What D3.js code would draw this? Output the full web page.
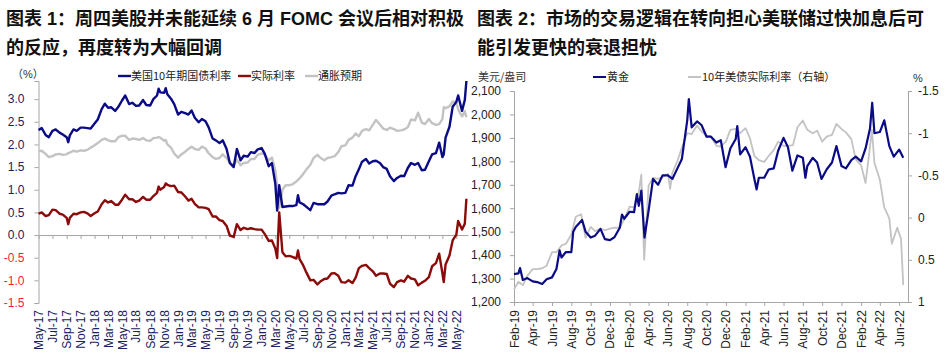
<!DOCTYPE html>
<html>
<head>
<meta charset="utf-8">
<script src="https://cdn.jsdelivr.net/npm/d3@7"></script>
<style>
body { margin: 0; background: #fff; }
svg { display: block; font-family: "Liberation Sans", "Noto Sans CJK SC", sans-serif; }
</style>
</head>
<body>
<svg id="chart" width="947" height="359"></svg>
<script>
// ---- chart 1: 10y yield, real rate, breakeven (semi-monthly readings) ----
var dates1 = [
  "2017-05-01","2017-05-15","2017-06-01","2017-06-15","2017-07-01","2017-07-15","2017-08-01","2017-08-15","2017-09-01","2017-09-08","2017-09-15","2017-10-01","2017-10-15","2017-11-01","2017-11-15","2017-12-01","2017-12-15",
  "2018-01-01","2018-01-15","2018-02-01","2018-02-15","2018-03-01","2018-03-15","2018-04-01","2018-04-15","2018-05-01","2018-05-15","2018-06-01","2018-06-15","2018-07-01","2018-07-15","2018-08-01","2018-08-15","2018-09-01","2018-09-15","2018-10-01","2018-10-08","2018-10-15","2018-11-01","2018-11-08","2018-11-15","2018-12-01","2018-12-15",
  "2019-01-01","2019-01-15","2019-02-01","2019-02-15","2019-03-01","2019-03-15","2019-04-01","2019-04-15","2019-05-01","2019-05-15","2019-06-01","2019-06-15","2019-07-01","2019-07-15","2019-08-01","2019-08-15","2019-09-01","2019-09-15","2019-10-01","2019-10-15","2019-11-01","2019-11-15","2019-12-01","2019-12-15",
  "2020-01-01","2020-01-15","2020-02-01","2020-02-15","2020-03-01","2020-03-09","2020-03-18","2020-04-01","2020-04-15","2020-05-01","2020-05-15","2020-06-01","2020-06-08","2020-06-15","2020-07-01","2020-07-15","2020-08-01","2020-08-15","2020-09-01","2020-09-15","2020-10-01","2020-10-15","2020-11-01","2020-11-15","2020-12-01","2020-12-15",
  "2021-01-01","2021-01-15","2021-02-01","2021-02-15","2021-03-01","2021-03-15","2021-04-01","2021-04-15","2021-05-01","2021-05-15","2021-06-01","2021-06-15","2021-07-01","2021-07-15","2021-08-01","2021-08-15","2021-09-01","2021-09-15","2021-10-01","2021-10-15","2021-11-01","2021-11-15","2021-12-01","2021-12-15",
  "2022-01-01","2022-01-15","2022-02-01","2022-02-15","2022-03-01","2022-03-07","2022-03-15","2022-04-01","2022-04-15","2022-05-01","2022-05-09","2022-05-26","2022-06-07","2022-06-14"
];
var yield10 = [
  2.32,2.36,2.21,2.16,2.30,2.33,2.26,2.22,2.16,2.05,2.20,2.33,2.30,2.37,2.37,2.36,2.35,
  2.46,2.55,2.78,2.90,2.81,2.82,2.74,2.83,2.97,3.08,2.89,2.92,2.85,2.86,2.98,2.87,2.86,3.00,3.08,3.23,3.15,3.14,3.24,3.11,3.01,2.89,
  2.66,2.72,2.69,2.66,2.75,2.59,2.49,2.56,2.51,2.37,2.13,2.09,2.03,2.09,1.90,1.59,1.50,1.90,1.65,1.75,1.73,1.83,1.81,1.89,
  1.92,1.79,1.52,1.59,1.13,0.54,1.10,0.62,0.63,0.64,0.64,0.66,0.88,0.72,0.68,0.62,0.55,0.71,0.68,0.68,0.68,0.74,0.87,0.90,0.93,0.92,
  0.93,1.10,1.09,1.30,1.45,1.62,1.68,1.58,1.63,1.64,1.59,1.50,1.46,1.30,1.19,1.26,1.31,1.30,1.48,1.59,1.55,1.59,1.43,1.44,
  1.63,1.78,1.81,2.04,1.72,1.78,2.15,2.39,2.83,2.94,3.08,2.74,2.98,3.40
];
var realRate = [
  0.47,0.50,0.42,0.44,0.56,0.55,0.47,0.45,0.38,0.24,0.38,0.47,0.46,0.50,0.51,0.48,0.42,
  0.48,0.52,0.68,0.77,0.72,0.75,0.67,0.67,0.78,0.89,0.79,0.79,0.73,0.76,0.84,0.78,0.78,0.86,0.93,1.07,1.00,1.06,1.14,1.11,1.08,1.09,
  0.95,0.94,0.85,0.76,0.80,0.69,0.61,0.61,0.60,0.57,0.41,0.41,0.33,0.31,0.20,-0.01,-0.04,0.24,0.11,0.16,0.13,0.15,0.13,0.12,
  0.12,0.02,-0.13,-0.12,-0.30,-0.51,0.50,-0.38,-0.47,-0.46,-0.48,-0.52,-0.34,-0.53,-0.67,-0.83,-1.00,-0.99,-1.09,-1.02,-0.97,-0.96,-0.85,-0.84,-0.90,-1.04,
  -1.05,-1.00,-1.06,-0.94,-0.73,-0.68,-0.66,-0.73,-0.80,-0.90,-0.85,-0.85,-0.86,-1.07,-1.15,-1.04,-1.00,-1.03,-0.90,-0.96,-0.98,-1.11,-1.05,-1.01,
  -0.93,-0.69,-0.62,-0.41,-0.84,-1.04,-0.65,-0.45,-0.12,0.01,0.31,0.12,0.25,0.80
];
var breakeven = [
  1.85,1.86,1.79,1.72,1.74,1.78,1.79,1.77,1.78,1.81,1.82,1.86,1.84,1.87,1.86,1.88,1.93,
  1.98,2.03,2.10,2.13,2.09,2.07,2.07,2.16,2.19,2.19,2.10,2.13,2.12,2.10,2.14,2.09,2.08,2.14,2.15,2.16,2.15,2.08,2.10,2.00,1.93,1.80,
  1.71,1.78,1.84,1.90,1.95,1.90,1.88,1.95,1.91,1.80,1.72,1.68,1.70,1.78,1.70,1.60,1.54,1.66,1.54,1.59,1.60,1.68,1.68,1.77,
  1.80,1.77,1.65,1.71,1.43,1.05,0.60,1.00,1.10,1.10,1.12,1.18,1.22,1.25,1.35,1.45,1.55,1.70,1.77,1.70,1.65,1.70,1.72,1.74,1.83,1.96,
  1.98,2.10,2.15,2.24,2.18,2.30,2.34,2.31,2.43,2.54,2.44,2.35,2.32,2.37,2.34,2.30,2.31,2.33,2.38,2.55,2.53,2.70,2.48,2.45,
  2.56,2.47,2.43,2.45,2.56,2.82,2.80,2.84,2.95,2.93,2.77,2.62,2.73,2.60
];
var names1 = ["美国10年期国债利率", "实际利率", "通胀预期"];
var yTicks1 = [-1.5, -1.0, -0.5, 0.0, 0.5, 1.0, 1.5, 2.0, 2.5, 3.0];

// ---- chart 2: gold price vs 10y real rate ----
var dates2 = [
  "2019-02-01","2019-02-15","2019-02-20","2019-03-01","2019-03-15","2019-04-01","2019-04-15","2019-05-01","2019-05-15","2019-06-01","2019-06-15","2019-06-25","2019-07-01","2019-07-15","2019-08-01","2019-08-07","2019-08-15","2019-09-04","2019-09-15","2019-10-01","2019-10-15","2019-11-01","2019-11-15","2019-12-01","2019-12-15",
  "2020-01-01","2020-01-08","2020-01-15","2020-02-01","2020-02-15","2020-02-24","2020-03-01","2020-03-09","2020-03-19","2020-04-01","2020-04-15","2020-05-01","2020-05-15","2020-06-01","2020-06-15","2020-07-01","2020-07-15","2020-08-01","2020-08-06","2020-08-15","2020-09-01","2020-09-15","2020-10-01","2020-10-15","2020-11-01","2020-11-15","2020-11-30","2020-12-15",
  "2021-01-01","2021-01-06","2021-01-15","2021-02-01","2021-02-15","2021-03-01","2021-03-08","2021-03-15","2021-04-01","2021-04-15","2021-05-01","2021-05-15","2021-06-01","2021-06-15","2021-06-29","2021-07-15","2021-08-01","2021-08-09","2021-08-15","2021-09-01","2021-09-15","2021-09-29","2021-10-15","2021-11-01","2021-11-15","2021-12-01","2021-12-15",
  "2022-01-01","2022-01-15","2022-02-01","2022-02-15","2022-03-01","2022-03-08","2022-03-15","2022-04-01","2022-04-15","2022-05-01","2022-05-15","2022-06-01","2022-06-14"
];
var gold = [
  1319,1322,1345,1294,1302,1288,1285,1277,1297,1305,1341,1420,1390,1413,1413,1500,1520,1550,1500,1475,1483,1512,1468,1464,1476,
  1517,1573,1555,1585,1583,1660,1610,1675,1475,1590,1725,1700,1740,1740,1725,1770,1810,1975,2065,1945,1970,1955,1905,1905,1880,1890,1775,1855,
  1895,1950,1830,1860,1820,1725,1680,1730,1730,1765,1770,1845,1900,1860,1760,1825,1815,1730,1780,1815,1795,1725,1765,1795,1865,1780,1770,
  1805,1820,1800,1855,1940,2050,1920,1925,1975,1865,1820,1850,1815
];
var names2 = ["黄金", "10年美债实际利率（右轴）"];
var goldTicks = [1200, 1300, 1400, 1500, 1600, 1700, 1800, 1900, 2000, 2100];
var rateTicks = [-1.5, -1, -0.5, 0, 0.5, 1];

var parse = d3.timeParse("%Y-%m-%d");
var fmtMonth = d3.timeFormat("%b-%y");
var svg = d3.select("#chart");

var NAVY = "#0b0b86", DARKRED = "#8b0a0a", GREY = "#c3c3c3", AXIS = "#a6a6a6";

// titles
var titles = [
  [6, 25, "图表 1：周四美股并未能延续 6 月 FOMC 会议后相对积极"],
  [6, 54, "的反应，再度转为大幅回调"],
  [477, 25, "图表 2：市场的交易逻辑在转向担心美联储过快加息后可"],
  [477, 54, "能引发更快的衰退担忧"]
];
svg.selectAll("text.title").data(titles).join("text")
  .attr("class", "title")
  .attr("x", d => d[0]).attr("y", d => d[1])
  .style("font-size", "18px").style("font-weight", "bold").attr("fill", "#111")
  .text(d => d[2]);

// ================= chart 1 =================
var x1 = d3.scaleTime()
  .domain([parse("2017-05-01"), parse("2022-06-21")])
  .range([38.5, 468]);
var y1 = d3.scaleLinear().domain([-1.5, 3.4]).range([303, 81]);

var rows1 = dates1.map((d, i) => ({date: parse(d), a: yield10[i], b: realRate[i], c: breakeven[i]}));

var g1 = svg.append("g");

// y axis
var yAx1 = g1.append("g").attr("transform", "translate(38.5,0)")
  .call(d3.axisLeft(y1).tickValues(yTicks1).tickSize(4).tickPadding(10).tickFormat(d => d.toFixed(1)));
yAx1.select(".domain").attr("stroke", AXIS);
yAx1.selectAll(".tick line").attr("stroke", AXIS);
yAx1.selectAll(".tick text")
  .style("font-size", "12px")
  .attr("fill", d => d < 0 ? "#ff1a3c" : "#1a2060");

// x axis crossing at zero
var ticks1 = d3.timeMonth.range(parse("2017-05-01"), parse("2022-06-02"), 2);
var xAx1 = g1.append("g").attr("transform", "translate(0," + y1(0) + ")")
  .call(d3.axisBottom(x1).tickValues(ticks1).tickSize(4).tickSizeOuter(0).tickFormat(""));
xAx1.select(".domain").attr("stroke", AXIS);
xAx1.selectAll(".tick line").attr("stroke", AXIS);

g1.append("g").selectAll("text").data(ticks1).join("text")
  .attr("transform", d => "translate(" + (x1(d) + 4.5) + ",310) rotate(-90)")
  .attr("text-anchor", "end")
  .style("font-size", "12px").attr("fill", "#1a2060")
  .text(d => fmtMonth(d));

g1.append("text").attr("x", 12).attr("y", 78)
  .style("font-size", "11px").attr("fill", "#333").text("（%）");

var line1 = key => d3.line().x(d => x1(d.date)).y(d => y1(d[key]));
g1.append("path").datum(rows1).attr("d", line1("c"))
  .attr("fill", "none").attr("stroke", GREY).attr("stroke-width", 2.4).attr("stroke-linejoin", "round");
g1.append("path").datum(rows1).attr("d", line1("b"))
  .attr("fill", "none").attr("stroke", DARKRED).attr("stroke-width", 2.4).attr("stroke-linejoin", "round");
g1.append("path").datum(rows1).attr("d", line1("a"))
  .attr("fill", "none").attr("stroke", NAVY).attr("stroke-width", 2.4).attr("stroke-linejoin", "round");

// legend 1
var leg1 = [[118, names1[0], NAVY], [238, names1[1], DARKRED], [305, names1[2], GREY]];
var lg1 = g1.append("g").selectAll("g").data(leg1).join("g")
  .attr("transform", d => "translate(" + d[0] + ",76)");
lg1.append("line").attr("x1", 0).attr("x2", 13).attr("y1", 0).attr("y2", 0)
  .attr("stroke", d => d[2]).attr("stroke-width", 2.4);
lg1.append("text").attr("x", 13).attr("y", 4)
  .style("font-size", "11px").style("font-family", "'Noto Sans CJK SC', sans-serif").attr("fill", "#222")
  .text(d => d[1]);

// ================= chart 2 =================
var x2 = d3.scaleTime()
  .domain([parse("2019-02-01"), parse("2022-06-29")])
  .range([514, 908]);
var yG = d3.scaleLinear().domain([1200, 2100]).range([302, 91]);
var yR = d3.scaleLinear().domain([-1.5, 1]).range([91, 302]);

var rowsGold = dates2.map((d, i) => ({date: parse(d), v: gold[i]}));
var rowsReal = rows1.filter(r => r.date >= parse("2019-02-01"));

var g2 = svg.append("g");

var yAxG = g2.append("g").attr("transform", "translate(514,0)")
  .call(d3.axisLeft(yG).tickValues(goldTicks).tickSize(4).tickPadding(9).tickFormat(d3.format(",")));
var yAxR = g2.append("g").attr("transform", "translate(908,0)")
  .call(d3.axisRight(yR).tickValues(rateTicks).tickSize(4).tickPadding(6).tickFormat(d => String(d)));
var ticks2 = d3.timeMonth.range(parse("2019-02-01"), parse("2022-06-02"), 2);
var xAx2 = g2.append("g").attr("transform", "translate(0,302)")
  .call(d3.axisBottom(x2).tickValues(ticks2).tickSize(4).tickSizeOuter(0).tickFormat(""));
[yAxG, yAxR, xAx2].forEach(a => {
  a.select(".domain").attr("stroke", AXIS);
  a.selectAll(".tick line").attr("stroke", AXIS);
  a.selectAll(".tick text").style("font-size", "12px").attr("fill", "#222");
});

g2.append("g").selectAll("text").data(ticks2).join("text")
  .attr("transform", d => "translate(" + (x2(d) + 4.5) + ",310) rotate(-90)")
  .attr("text-anchor", "end")
  .style("font-size", "12px").attr("fill", "#222")
  .text(d => fmtMonth(d));

g2.append("text").attr("x", 478).attr("y", 81)
  .style("font-size", "11px").style("font-family", "'Noto Sans CJK SC', sans-serif").attr("fill", "#333").text("美元/盎司");
g2.append("text").attr("x", 913).attr("y", 82)
  .style("font-size", "11px").attr("fill", "#333").text("%");

g2.append("path").datum(rowsReal)
  .attr("d", d3.line().x(d => x2(d.date)).y(d => yR(d.b)))
  .attr("fill", "none").attr("stroke", GREY).attr("stroke-width", 1.8).attr("stroke-linejoin", "round");
g2.append("path").datum(rowsGold)
  .attr("d", d3.line().x(d => x2(d.date)).y(d => yG(d.v)))
  .attr("fill", "none").attr("stroke", NAVY).attr("stroke-width", 2.2).attr("stroke-linejoin", "round");

var leg2 = [[593, names2[0], NAVY], [688, names2[1], GREY]];
var lg2 = g2.append("g").selectAll("g").data(leg2).join("g")
  .attr("transform", d => "translate(" + d[0] + ",77)");
lg2.append("line").attr("x1", 0).attr("x2", 13).attr("y1", 0).attr("y2", 0)
  .attr("stroke", d => d[2]).attr("stroke-width", 2);
lg2.append("text").attr("x", 14).attr("y", 4)
  .style("font-size", "11px").style("font-family", "'Noto Sans CJK SC', sans-serif").attr("fill", "#222")
  .text(d => d[1]);
</script>
</body>
</html>
